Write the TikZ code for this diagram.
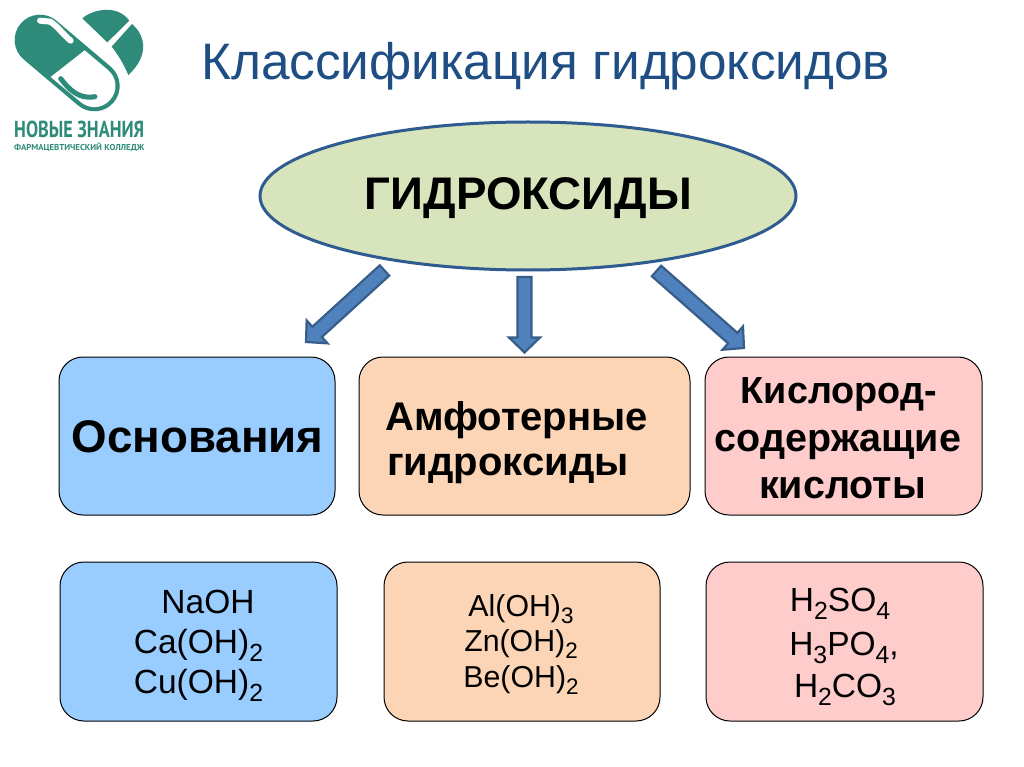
\documentclass[tikz,border=0pt]{standalone}
\usepackage{fontspec}
\setmainfont{Liberation Sans}
\usetikzlibrary{calc,shapes.geometric}
\definecolor{titleblue}{HTML}{1F4E85}
\definecolor{teal}{HTML}{2E8B7A}
\definecolor{ellfill}{HTML}{D8E4BC}
\definecolor{ellline}{HTML}{2F5B91}
\definecolor{arrfill}{HTML}{4F81BD}
\definecolor{arrline}{HTML}{385D8A}
\definecolor{cblue}{HTML}{99CCFF}
\definecolor{corange}{HTML}{FBD5B5}
\definecolor{cpink}{HTML}{FFCCCC}
\newcommand{\fs}[1]{\fontsize{#1}{#1}\selectfont}
\newcommand{\sbs}[1]{\raisebox{-0.24em}{\fontsize{0.74em}{0.74em}\selectfont #1}}
\newcommand{\blockarrow}[2]{%
  \coordinate (hb) at ($(#2)!15pt!(#1)$);
  \draw[blockarr]
    ($(#1)!7pt!90:(#2)$) -- ($(hb)!7pt!-90:(#1)$) -- ($(hb)!15.5pt!-90:(#1)$) -- (#2)
    -- ($(hb)!15.5pt!90:(#1)$) -- ($(hb)!7pt!90:(#1)$) -- ($(#1)!7pt!-90:(#2)$) -- cycle;}
\tikzset{
  x=1pt,y=-1pt,
  blockarr/.style={fill=arrfill,draw=arrline,line width=2.2pt,line join=miter},
  bx/.style={draw=black,line width=1pt,rounded corners=24pt},
  lbl/.style={align=center,font=\bfseries,text=black,inner sep=0pt},
  ltxt/.style={font=\fs{30.3},align=center,inner sep=0pt,text=black},
}
\begin{document}
\begin{tikzpicture}
\useasboundingbox (0,0) rectangle (1024,767);
\fill[white] (0,0) rectangle (1024,767);
% logo
\begin{scope}[x=0.3333pt,y=-0.3333pt]
\draw[teal,line width=50.7pt,line cap=round] (120,120) -- (283,258);
\fill[white] (152,231) -- (254,151) -- (324,210) .. controls (351,233) and (354,272) .. (331,299) .. controls (308,326) and (269,329) .. (242,306) -- cycle;
\fill[teal] (247,55) .. controls (275,30) and (350,10) .. (388,62) -- (322,127) -- cycle;
\fill[teal] (396,72) .. controls (440,110) and (445,170) .. (385,225) .. controls (370,190) and (355,165) .. (335,140) -- cycle;
\draw[white,line width=6pt,line cap=round] (120,62) -- (150,65) .. controls (170,75) and (190,105) .. (212,122);
\draw[teal,line width=5pt,line cap=round] (182,236) .. controls (205,265) and (235,300) .. (285,290);
\end{scope}
\node[inner sep=0pt,anchor=north west,text=teal] (logoname) at (14,121) {\resizebox{130pt}{16.5pt}{\bfseries\fontspec{PT Sans}НОВЫЕ ЗНАНИЯ}};
\node[inner sep=0pt,anchor=north west,text=teal] (logosub) at (14,143) {\resizebox{130pt}{7.5pt}{\bfseries\fontspec{PT Sans}ФАРМАЦЕВТИЧЕСКИЙ КОЛЛЕДЖ}};
% title
\node[inner sep=0pt,anchor=west,text=titleblue,font=\fs{51.3}] (title) at (201,66) {Классификация гидроксидов};
% ellipse
\node[ellipse,draw=ellline,fill=ellfill,line width=3pt,minimum width=536pt,minimum height=148pt,inner sep=0pt] (root) at (528,196) {};
\node[lbl,font=\bfseries\fs{45.7}] (rootlabel) at (528.5,198) {ГИДРОКСИДЫ};
% boxes
\draw[bx,fill=cblue] (59,357) rectangle (335,515);
\draw[bx,fill=corange] (359,357) rectangle (690,515);
\draw[bx,fill=cpink] (705,357) rectangle (982,515);
\draw[bx,fill=cblue] (60,562) rectangle (337,721);
\draw[bx,fill=corange] (384,562) rectangle (660,721);
\draw[bx,fill=cpink] (706,562) rectangle (983,721);
% labels
\node[lbl,font=\bfseries\fs{45.7}] (osn) at (197.5,437) {Основания};
\node[lbl,anchor=west,font=\bfseries\fs{40},align=left] (amf1) at (385,420) {Амфотерные};
\node[lbl,anchor=west,font=\bfseries\fs{40},align=left] (amf2) at (387,469) {гидроксиды};
\node[lbl,font=\bfseries\fs{37.8}] (kis1) at (839,394) {Кислород-};
\node[lbl,font=\bfseries\fs{39.5}] (kis2) at (838,445) {содержащие};
\node[lbl,font=\bfseries\fs{39.5}] (kis3) at (842.5,488) {кислоты};
\node[ltxt,font=\fs{33.5}] (f11) at (208,602) {NaOH};
\node[ltxt,font=\fs{33.5}] (f12) at (198.5,645) {Ca(OH)\sbs{2}};
\node[ltxt,font=\fs{33.5}] (f13) at (198.5,685) {Cu(OH)\sbs{2}};
\node[ltxt] (f21) at (521,609) {Al(OH)\sbs{3}};
\node[ltxt] (f22) at (521,644) {Zn(OH)\sbs{2}};
\node[ltxt] (f23) at (521,680) {Be(OH)\sbs{2}};
\node[ltxt,font=\fs{33.5}] (f31) at (840,604) {H\sbs{2}SO\sbs{4}};
\node[ltxt,font=\fs{33.5}] (f32) at (844,648) {H\sbs{3}PO\sbs{4},};
\node[ltxt,font=\fs{33.5}] (f33) at (845,690) {H\sbs{2}CO\sbs{3}};
% arrows
\coordinate (a1) at (384.5,270.5); \coordinate (b1) at (306,342);
\coordinate (a2) at (524.5,277); \coordinate (b2) at (524.5,352.5);
\coordinate (a3) at (656.5,271); \coordinate (b3) at (744,348);
\blockarrow{a1}{b1}
\blockarrow{a2}{b2}
\blockarrow{a3}{b3}
\end{tikzpicture}
\end{document}
